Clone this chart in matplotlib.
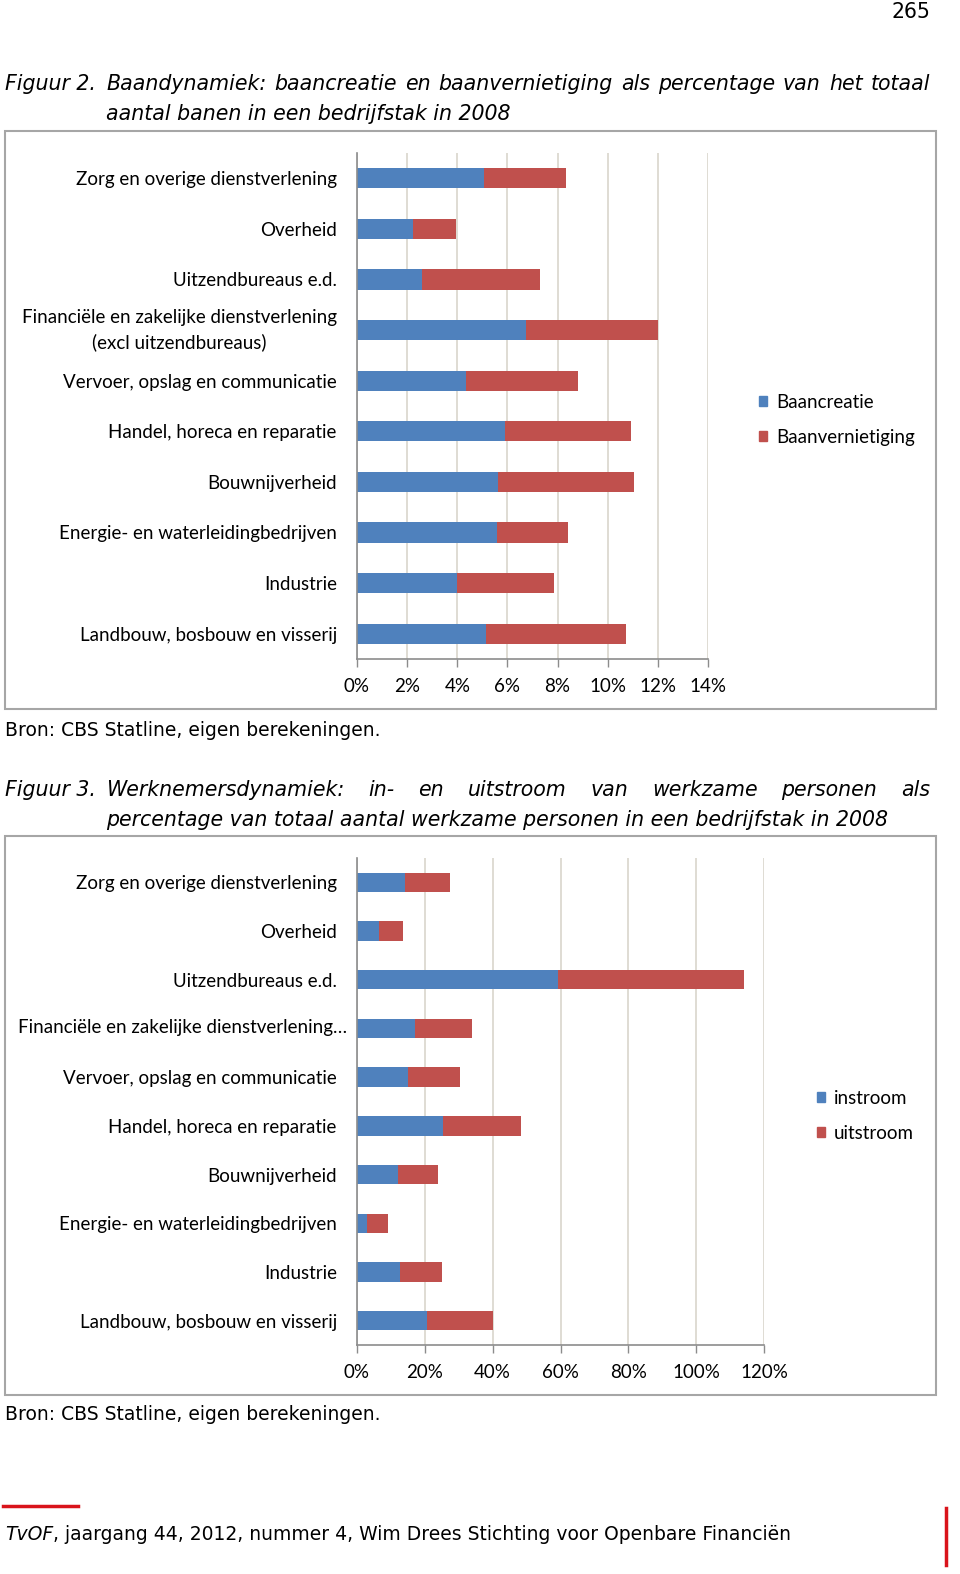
import matplotlib.pyplot as plt
from matplotlib.patches import Patch, Rectangle
from matplotlib.ticker import PercentFormatter
import numpy as np

W, H = 960, 1574

sectoren = ["Zorg en overige dienstverlening", "Overheid", "Uitzendbureaus e.d.",
            "Financiële en zakelijke dienstverlening\n(excl uitzendbureaus)",
            "Vervoer, opslag en communicatie", "Handel, horeca en reparatie",
            "Bouwnijverheid", "Energie- en waterleidingbedrijven", "Industrie",
            "Landbouw, bosbouw en visserij"]
sectoren_fig3 = list(sectoren)
sectoren_fig3[3] = ""  # placed separately, label runs past the axis

# figuur 2, percent of jobs
baancreatie = [5.05, 2.23, 2.6, 6.75, 4.36, 5.92, 5.63, 5.58, 4.0, 5.16]
baanvernietiging = [3.3, 1.7, 4.7, 5.27, 4.47, 5.0, 5.4, 2.82, 3.84, 5.55]
# figuur 3, percent of workers
instroom = [14.2, 6.6, 59.3, 17.2, 15.0, 25.5, 12.0, 3.0, 12.6, 20.5]
uitstroom = [13.1, 7.0, 54.7, 16.6, 15.4, 22.8, 12.0, 6.2, 12.5, 19.6]

BLUE = '#4F81BD'
RED = '#C0504D'
GRID = '#d9d6cc'
AXC = '#8c8c8c'
LBL = 'Lato'
LSIZE = 13.5


def fx(x):
    return x / W


def fy(y):
    return 1 - y / H


fig = plt.figure(figsize=(9.6, 15.74), dpi=100)
rend = fig.canvas.get_renderer()


def box(x0, y0, x1, y1):
    fig.patches.append(Rectangle((fx(x0), fy(y1)), fx(x1 - x0), (y1 - y0) / H,
                                 transform=fig.transFigure, fill=False,
                                 edgecolor='#a6a6a6', lw=1.5))


def chart(px, labels, a, b, names, xmax, step, leg_x, leg_y):
    x0, y0, x1, y1 = px
    ax = fig.add_axes([fx(x0), fy(y1), fx(x1 - x0), (y1 - y0) / H])
    pos = np.arange(len(labels))
    ax.barh(pos, a, height=0.4, color=BLUE, label=names[0])
    ax.barh(pos, b, left=a, height=0.4, color=RED, label=names[1])
    ax.set_ylim(len(labels) - 0.5, -0.5)
    ax.set_xlim(0, xmax)
    ax.set_xticks(np.arange(0, xmax + 0.1, step))
    ax.xaxis.set_major_formatter(PercentFormatter(decimals=0))
    ax.set_yticks(pos)
    ax.set_yticklabels(labels, fontfamily=LBL, fontsize=LSIZE)
    for t in ax.get_yticklabels():
        t.set_multialignment('center')
        if '\n' in t.get_text():
            t.set_linespacing(1.55)
            t.set_verticalalignment('center')
    for t in ax.get_xticklabels():
        t.set_fontfamily(LBL)
        t.set_fontsize(LSIZE)
    ax.tick_params(axis='y', length=0, pad=14.5)
    ax.tick_params(axis='x', length=6, width=1, color=AXC, pad=8)
    ax.xaxis.grid(True, color=GRID, lw=1.2)
    ax.set_axisbelow(True)
    for s in ['top', 'right']:
        ax.spines[s].set_visible(False)
    for s in ['left', 'bottom']:
        ax.spines[s].set_color(AXC)
        ax.spines[s].set_linewidth(1.2)
    h = [Patch(color=BLUE), Patch(color=RED)]
    fig.legend(h, names, loc='center left', bbox_to_anchor=(fx(leg_x), fy(leg_y)),
               bbox_transform=fig.transFigure, frameon=False, handlelength=0.45,
               handleheight=0.45, handletextpad=0.45, labelspacing=0.95, borderpad=0,
               borderaxespad=0, prop={'family': LBL, 'size': LSIZE})
    return ax


def justified(words, x0, x1, y, size):
    texts = [fig.text(0, fy(y), w, fontsize=size, style='italic', va='center', ha='left')
             for w in words]
    widths = [t.get_window_extent(rend).width for t in texts]
    gap = (x1 - x0 - sum(widths)) / (len(words) - 1)
    x = x0
    for t, w in zip(texts, widths):
        t.set_x(fx(x))
        x += w + gap


TS = 14.8
BS = 13.5
# page number
fig.text(fx(930), fy(12), "265", fontsize=TS, ha='right', va='center')

# figuur 2
fig.text(fx(5), fy(84), "Figuur 2.", fontsize=TS, style='italic', va='center')
justified("Baandynamiek: baancreatie en baanvernietiging als percentage van het totaal".split(),
          106, 930, 84, TS)
fig.text(fx(106), fy(114), "aantal banen in een bedrijfstak in 2008", fontsize=TS,
         style='italic', va='center')
box(5, 131, 936, 709)
chart((357, 153, 708, 659), sectoren, baancreatie, baanvernietiging,
      ["Baancreatie", "Baanvernietiging"], 14, 2, 759, 420)
fig.text(fx(5), fy(731), "Bron: CBS Statline, eigen berekeningen.", fontsize=BS, va='center')

# figuur 3
fig.text(fx(5), fy(790), "Figuur 3.", fontsize=TS, style='italic', va='center')
justified("Werknemersdynamiek: in- en uitstroom van werkzame personen als".split(),
          106, 930, 790, TS)
fig.text(fx(106), fy(820), "percentage van totaal aantal werkzame personen in een bedrijfstak in 2008",
         fontsize=TS, style='italic', va='center')
box(5, 836, 936, 1395)
ax3 = chart((357, 858, 764, 1345), sectoren_fig3, instroom, uitstroom,
            ["instroom", "uitstroom"], 120, 20, 817, 1116)
fig.text(fx(18), fy(1028), "Financiële en zakelijke dienstverlening…", fontfamily=LBL,
         fontsize=LSIZE, va='center', ha='left')
fig.text(fx(5), fy(1415), "Bron: CBS Statline, eigen berekeningen.", fontsize=BS, va='center')

# footer
fig.lines.append(plt.Line2D([fx(3), fx(78)], [fy(1506), fy(1506)], transform=fig.transFigure,
                            color='#d9141b', lw=2.5))
fig.lines.append(plt.Line2D([fx(946), fx(946)], [fy(1508), fy(1565)], transform=fig.transFigure,
                            color='#d9141b', lw=2.5))
t = fig.text(fx(5), fy(1534), "TvOF", fontsize=13.5, style='italic', va='center')
w = t.get_window_extent(rend).width
fig.text(fx(5 + w), fy(1534), ", jaargang 44, 2012, nummer 4, Wim Drees Stichting voor Openbare Financiën",
         fontsize=13.5, va='center')

fig.savefig('out.png', dpi=100)
